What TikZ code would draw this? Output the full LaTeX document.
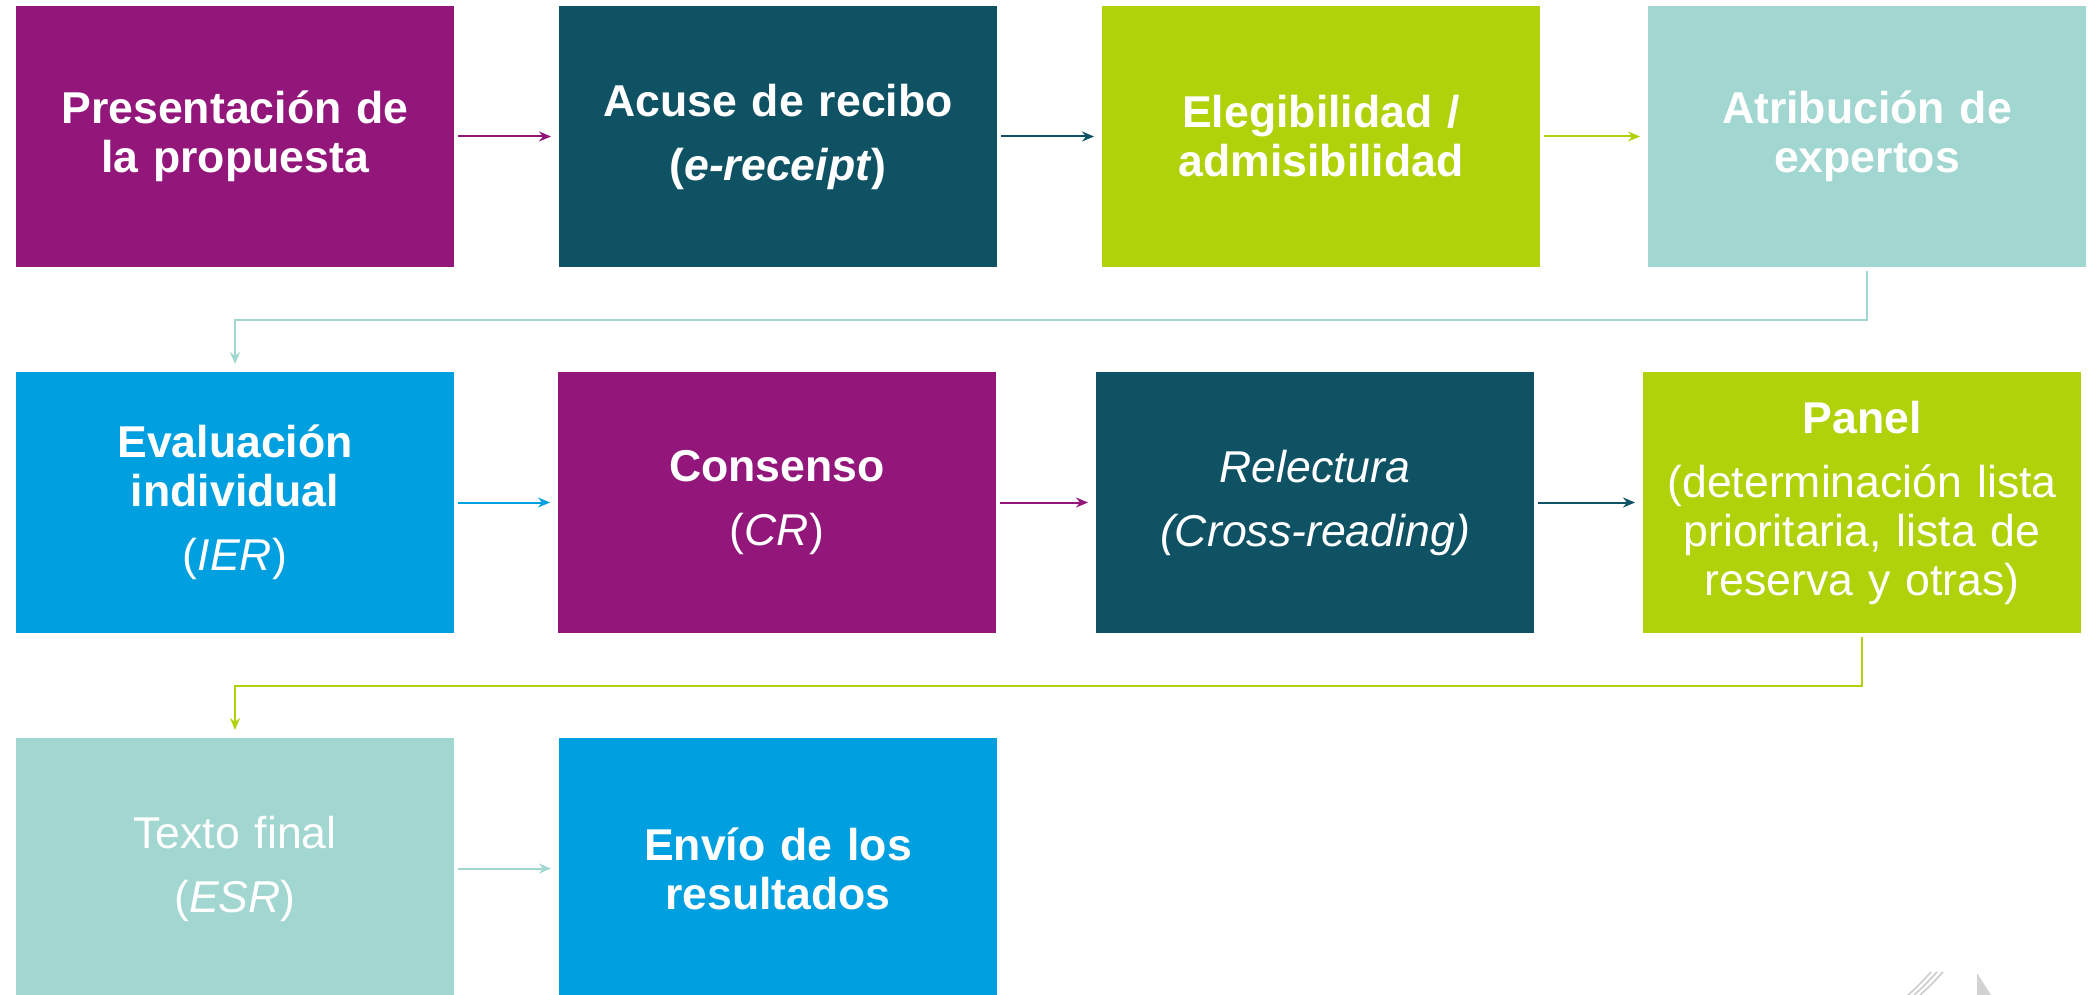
\documentclass[tikz,border=0pt]{standalone}
\usepackage{fontspec}
\setmainfont{Liberation Sans}
\usetikzlibrary{arrows.meta, positioning}

\definecolor{morado}{RGB}{147,22,123}
\definecolor{petroleo}{RGB}{15,82,100}
\definecolor{lima}{RGB}{176,210,10}
\definecolor{aguamarina}{RGB}{162,214,208}
\definecolor{azul}{RGB}{0,159,223}

\begin{document}
\begin{tikzpicture}[x=0.5pt, y=-0.5pt, node distance=52.5pt,
        etapa/.style={rectangle, minimum width=219pt, minimum height=130.5pt, text width=214pt, align=center, inner sep=0pt, outer sep=0pt, text=white, font=\fontsize{22.3}{24.5}\selectfont},
        flecha/.style={-{Stealth[length=6pt, width=5pt]}, line width=1pt, shorten <=2pt, shorten >=4pt}]
        \useasboundingbox (0,0) rectangle (2088,995);
        \clip (0,0) rectangle (2088,995);

        % fila 1
        \node (e1) [etapa, fill=morado] at (235,136.5) {\bfseries Presentación de\\ la propuesta};
        \node (e2) [etapa, fill=petroleo, right=of e1] {\bfseries Acuse de recibo\\[7.5pt] (\textit{e-receipt})};
        \node (e3) [etapa, fill=lima, right=of e2] {\bfseries Elegibilidad /\\ admisibilidad};
        \node (e4) [etapa, fill=aguamarina, right=54pt of e3] {\bfseries Atribución de\\ expertos};

        % fila 2
        \node (e5) [etapa, fill=azul, below=of e1] {\bfseries Evaluación\\ individual\\[7.5pt] \mdseries(\textit{IER})};
        \node (e6) [etapa, fill=morado, right=52pt of e5] {\bfseries Consenso\\[7.5pt] \mdseries(\textit{CR})};
        \node (e7) [etapa, fill=petroleo, right=50pt of e6] {\itshape Relectura\\[7.5pt] (Cross-reading)};
        \node (e8) [etapa, fill=lima, right=54.5pt of e7] {\textbf{Panel}\\[7.5pt] (determinación lista\\ prioritaria, lista de\\ reserva y otras)};

        % fila 3
        \node (e9) [etapa, fill=aguamarina, below=of e5] {Texto final\\[7.5pt] (\textit{ESR})};
        \node (e10) [etapa, fill=azul, right=of e9] {\bfseries Envío de los\\ resultados};

        \coordinate (c1) at ([yshift=-26.5pt]e4.south);
        \coordinate (c2) at ([yshift=-26.5pt]e8.south);

        \path [flecha]
            (e1) edge[morado] (e2)
            (e2) edge[petroleo] (e3)
            (e3) edge[lima] (e4)
            (e5) edge[azul] (e6)
            (e6) edge[morado] (e7)
            (e7) edge[petroleo] (e8)
            (e9) edge[aguamarina] (e10)
            ;
        \draw [flecha, aguamarina] (e4.south) -- (c1) -| (e5.north);
        \draw [flecha, lima] (e8.south) -- (c2) -| (e9.north);

        % resto del logo
        \foreach \d in {0,6,12}
            \draw [gray!40, line width=0.8pt] (1908+\d,995) .. controls (1918+\d,986) .. (1931+\d,972);
        \fill [gray!35] (1977,973) -- (1991,995) -- (1977,995) -- cycle;
    \end{tikzpicture}
\end{document}
